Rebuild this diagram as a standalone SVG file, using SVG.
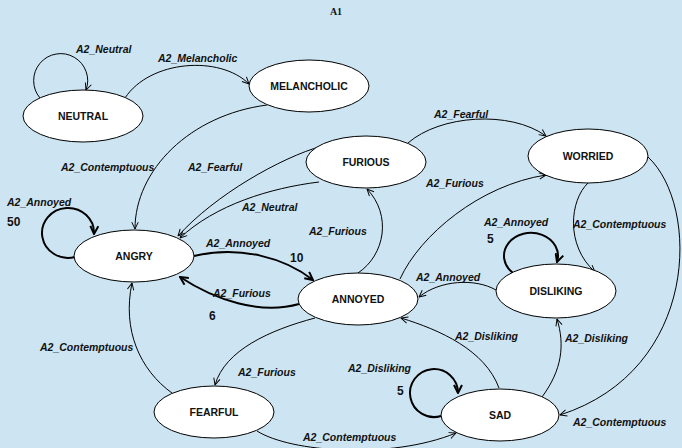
<svg xmlns="http://www.w3.org/2000/svg" width="682" height="448" viewBox="0 0 682 448">
<style>
.node ellipse{fill:#fff;stroke:#000;stroke-width:1}
.node text{font-family:"Liberation Sans",Arial,sans-serif;font-weight:bold;font-size:10.5px;text-anchor:middle;fill:#111}
.e{fill:none;stroke:#000;stroke-width:1;marker-end:url(#a)}
.t{fill:none;stroke:#000;stroke-width:2;marker-end:url(#b)}
.l{font-family:"Liberation Sans",Arial,sans-serif;font-weight:bold;font-style:italic;font-size:10.5px;fill:#111}
.n{font-family:"Liberation Sans",Arial,sans-serif;font-weight:bold;font-size:12px;fill:#111}
</style>
<defs>
<marker id="a" viewBox="0 0 10 10" refX="9.5" refY="5" markerWidth="8" markerHeight="8" markerUnits="userSpaceOnUse" orient="auto"><path d="M1,1 L9.5,5 L1,9" fill="none" stroke="#000" stroke-width="1.2"/></marker>
<marker id="b" viewBox="0 0 10 10" refX="9" refY="5" markerWidth="10" markerHeight="10" markerUnits="userSpaceOnUse" orient="auto"><path d="M1,1 L9,5 L1,9" fill="none" stroke="#000" stroke-width="2"/></marker>
</defs>
<rect width="682" height="448" fill="#cde5f3"/>
<text x="336" y="15" font-family="'Liberation Serif',serif" font-weight="bold" font-size="10px" text-anchor="middle" fill="#111">A1</text>
<g id="connectors">
<path class="e" d="M40,98 A27,27 0 1 1 86,90"/>
<path class="e" d="M125,98 C150,60 220,55 249,84"/>
<path class="e" d="M267,105 C190,115 135,170 135,229"/>
<path class="e" d="M322,146 C280,158 215,195 178,236"/>
<path class="e" d="M319,182 C270,188 215,205 180,238"/>
<path class="t" d="M194,256 C240,245 285,258 313,280"/>
<path class="t" d="M299,304 C260,315 215,300 180,277"/>
<path class="e" d="M358,273 C385,255 392,215 367,189"/>
<path class="e" d="M400,279 C420,235 480,185 546,175"/>
<path class="e" d="M408,143 C440,115 510,110 546,136"/>
<path class="e" d="M588,183 C570,200 565,245 595,272"/>
<path class="e" d="M648,157 C700,205 700,370 560,415"/>
<path class="t" d="M513,273 A27,23 0 1 1 557,262"/>
<path class="e" d="M496,290 C475,278 440,280 419,297"/>
<path class="e" d="M499,388 C485,350 440,330 401,318"/>
<path class="e" d="M542,397 C562,370 565,345 557,319"/>
<path class="t" d="M441,416 A24,24 0 1 1 458,393"/>
<path class="e" d="M315,318 C270,330 225,350 215,385"/>
<path class="e" d="M172,393 C140,370 122,330 132,283"/>
<path class="e" d="M257,431 C290,452 390,460 456,433"/>
<path class="t" d="M75,257 A26,25 0 1 1 94,234"/>
</g>
<g id="labels">
<text class="l" x="76" y="53">A2_Neutral</text>
<text class="l" x="158" y="62">A2_Melancholic</text>
<text class="l" x="61" y="171">A2_Contemptuous</text>
<text class="l" x="188" y="171">A2_Fearful</text>
<text class="l" x="242" y="211">A2_Neutral</text>
<text class="l" x="206" y="247">A2_Annoyed</text>
<text class="n" x="290" y="262">10</text>
<text class="l" x="213" y="297">A2_Furious</text>
<text class="n" x="209" y="320">6</text>
<text class="l" x="309" y="235">A2_Furious</text>
<text class="l" x="426" y="187">A2_Furious</text>
<text class="l" x="434" y="118">A2_Fearful</text>
<text class="l" x="573" y="228">A2_Contemptuous</text>
<text class="l" x="573" y="426">A2_Contemptuous</text>
<text class="l" x="484" y="226">A2_Annoyed</text>
<text class="n" x="487" y="243">5</text>
<text class="l" x="416" y="281">A2_Annoyed</text>
<text class="l" x="455" y="340">A2_Disliking</text>
<text class="l" x="565" y="342">A2_Disliking</text>
<text class="l" x="348" y="372">A2_Disliking</text>
<text class="n" x="397" y="395">5</text>
<text class="l" x="238" y="376">A2_Furious</text>
<text class="l" x="40" y="351">A2_Contemptuous</text>
<text class="l" x="303" y="441">A2_Contemptuous</text>
<text class="l" x="7" y="206">A2_Annoyed</text>
<text class="n" x="7" y="226">50</text>
</g>
<g id="NEUTRAL" class="node"><ellipse cx="83" cy="116" rx="60" ry="26"/><text x="83" y="120">NEUTRAL</text></g>
<g id="MELANCHOLIC" class="node"><ellipse cx="309" cy="86" rx="60" ry="26"/><text x="309" y="90">MELANCHOLIC</text></g>
<g id="FURIOUS" class="node"><ellipse cx="366" cy="162" rx="60" ry="26"/><text x="366" y="166">FURIOUS</text></g>
<g id="WORRIED" class="node"><ellipse cx="588" cy="156" rx="60" ry="27"/><text x="588" y="160">WORRIED</text></g>
<g id="ANGRY" class="node"><ellipse cx="134" cy="256" rx="60" ry="26"/><text x="134" y="260">ANGRY</text></g>
<g id="ANNOYED" class="node"><ellipse cx="358" cy="299" rx="60" ry="26"/><text x="358" y="303">ANNOYED</text></g>
<g id="DISLIKING" class="node"><ellipse cx="556" cy="291" rx="60" ry="27"/><text x="556" y="295">DISLIKING</text></g>
<g id="FEARFUL" class="node"><ellipse cx="214" cy="412" rx="60" ry="26"/><text x="214" y="416">FEARFUL</text></g>
<g id="SAD" class="node"><ellipse cx="500" cy="415" rx="59" ry="26"/><text x="500" y="419">SAD</text></g>
</svg>
